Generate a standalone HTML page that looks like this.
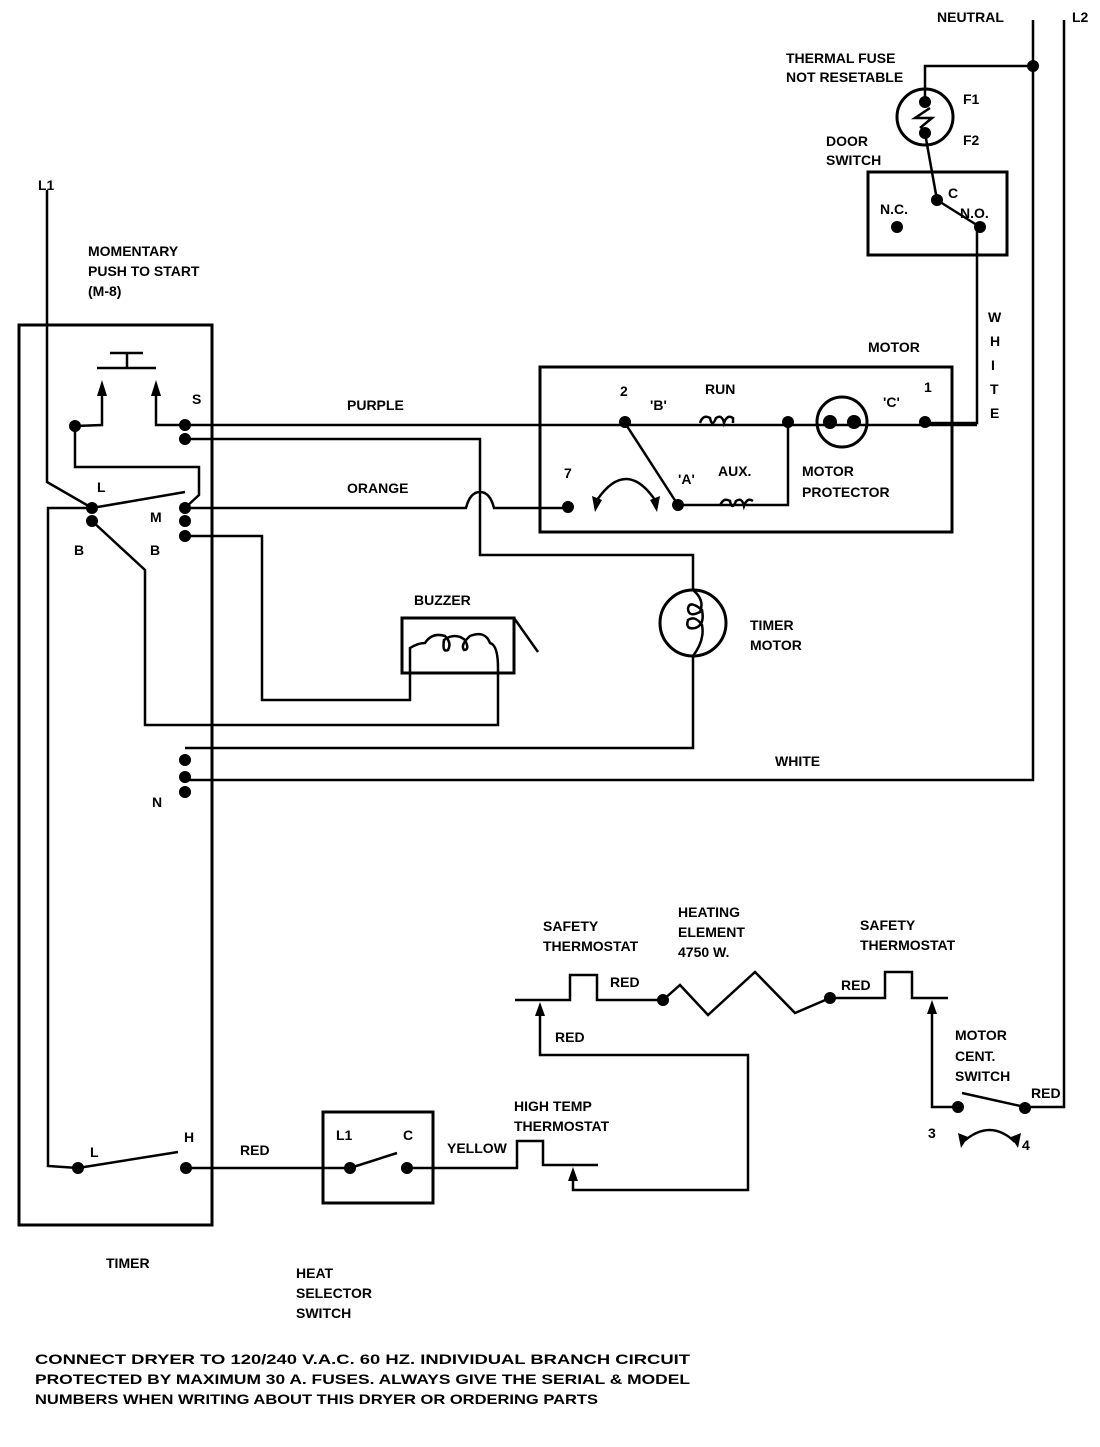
<!DOCTYPE html>
<html><head><meta charset="utf-8"><style>
html,body{margin:0;padding:0;background:#fff}
svg text{font-family:"Liberation Sans",sans-serif;font-weight:bold;font-size:14px;fill:#000}
</style></head><body>
<svg width="1100" height="1442" viewBox="0 0 1100 1442" xmlns="http://www.w3.org/2000/svg">
<g fill="none" stroke="#000" stroke-width="2.5">
<rect x="19" y="325" width="193" height="900" stroke-width="3"/>
<polyline points="47,190 47,482 92,508"/>
<polyline points="92,508 48,508 48,1166 78,1168"/>
<line x1="97" y1="368" x2="156" y2="368"/>
<line x1="110" y1="353" x2="143" y2="353"/>
<line x1="127" y1="353" x2="127" y2="368"/>
<polyline points="102,395 102,425 75,426"/>
<polyline points="156,395 156,425 185,425"/>
<polyline points="75,426 75,467 199,467 199,495 185,508"/>
<line x1="92" y1="508" x2="185" y2="492"/>
<polyline points="92,521 145,570 145,725 498,725 498,668"/>
<polyline points="185,536 262,536 262,700 410,700 410,668"/>
<line x1="185" y1="425" x2="977" y2="425"/>
<polyline points="185,439 480,439 480,555 693,555 693,590"/>
<polyline points="693,656 693,748 185,748"/>
<polyline points="185,780 1033,780 1033,20"/>
<path d="M185,508 H466 Q470,492 480,492 Q490,492 494,508 H568"/>
<rect x="540" y="367" width="412" height="165" stroke-width="3"/>
<line x1="625" y1="423" x2="678" y2="505"/>
<polyline points="678,505 740,505 788,505 788,423"/>
<path d="M597,500 Q626,458 655,500"/>
<circle cx="842" cy="422" r="25" stroke-width="3"/>
<polyline points="925,423 977,423 977,228"/>
<rect x="868" y="172" width="139" height="83" stroke-width="3"/>
<line x1="937" y1="200" x2="980" y2="227"/>
<line x1="937" y1="200" x2="925" y2="133"/>
<circle cx="925" cy="117" r="28" stroke-width="3"/>
<polyline points="925,102 925,66 1033,66"/>
<path d="M930,108 L915,118 L932,118 L920,128"/>
<polyline points="1064,20 1064,1107 1025,1107"/>
<rect x="402" y="618" width="112" height="55" stroke-width="3"/>
<line x1="514" y1="618" x2="538" y2="652"/>
<path d="M410,668 V648 Q418,643 425,643 Q432,632 445,636 Q452,643 448,650 Q442,653 444,640 Q455,632 465,640 Q470,650 464,650 Q460,645 470,636 Q485,630 490,643 Q498,645 498,668"/>
<circle cx="693" cy="623" r="33" stroke-width="3"/>
<path d="M693,590 Q705,600 700,612 Q688,618 688,608 Q690,600 702,610 Q705,625 695,628 Q685,630 688,620 Q695,615 702,625 Q705,640 693,656"/>
<polyline points="515,1000 570,1000 570,975 597,975 597,1000 663,1000 680,985 708,1015 755,972 795,1013 830,998 885,998 885,972 912,972 912,998 948,998"/>
<polyline points="540,1012 540,1055 748,1055 748,1190 573,1190 573,1178"/>
<polyline points="932,1012 932,1107 955,1107"/>
<line x1="962" y1="1093" x2="1025" y2="1107"/>
<path d="M963,1142 Q990,1118 1015,1142"/>
<line x1="78" y1="1168" x2="178" y2="1152"/>
<line x1="186" y1="1168" x2="350" y2="1168"/>
<rect x="323" y="1112" width="110" height="91" stroke-width="3"/>
<line x1="350" y1="1168" x2="397" y2="1153"/>
<polyline points="407,1168 517,1168 517,1141 543,1141 543,1165 598,1165"/>
</g>
<g fill="none" stroke="#000" stroke-width="2.5">
<path d="M700,423 Q703,414 710,418 Q712,428 716,418 Q722,414 724,423 Q727,414 733,418 V423"/>
<path d="M720,506 Q723,497 730,501 Q732,511 736,501 Q742,497 744,506 Q747,497 753,501"/>
</g>
<g fill="#000">
<polygon points="102,380 97,396 107,396"/>
<polygon points="156,380 151,396 161,396"/>
<polygon points="540,1002 535,1016 545,1016"/>
<polygon points="932,1000 927,1014 937,1014"/>
<polygon points="573,1167 568,1181 578,1181"/>
<polygon points="595,512 592,496 602,500"/>
<polygon points="657,512 650,500 660,496"/>
<polygon points="961,1148 958,1133 968,1137"/>
<polygon points="1018,1148 1011,1137 1021,1133"/>
</g>
<g fill="#000">
<circle cx="75" cy="426" r="6"/><circle cx="185" cy="425" r="6"/><circle cx="185" cy="439" r="6"/>
<circle cx="92" cy="508" r="6"/><circle cx="92" cy="521" r="6"/>
<circle cx="185" cy="508" r="6"/><circle cx="185" cy="521" r="6"/><circle cx="185" cy="536" r="6"/>
<circle cx="185" cy="760" r="6"/><circle cx="185" cy="777" r="6"/><circle cx="185" cy="792" r="6"/>
<circle cx="625" cy="422" r="6"/><circle cx="788" cy="422" r="6"/><circle cx="925" cy="422" r="6"/>
<circle cx="568" cy="507" r="6"/><circle cx="678" cy="505" r="6"/>
<circle cx="830" cy="422" r="7"/><circle cx="854" cy="422" r="7"/>
<circle cx="925" cy="102" r="6"/><circle cx="925" cy="133" r="6"/>
<circle cx="1033" cy="66" r="6"/>
<circle cx="897" cy="227" r="6"/><circle cx="937" cy="200" r="6"/><circle cx="980" cy="227" r="6"/>
<circle cx="663" cy="1000" r="6"/><circle cx="830" cy="998" r="6"/>
<circle cx="958" cy="1107" r="6"/><circle cx="1025" cy="1108" r="6"/>
<circle cx="78" cy="1168" r="6"/><circle cx="186" cy="1168" r="6"/>
<circle cx="350" cy="1168" r="6"/><circle cx="407" cy="1168" r="6"/>
</g>
<g>
<text x="937" y="22">NEUTRAL</text><text x="1072" y="22">L2</text>
<text x="786" y="63">THERMAL FUSE</text><text x="786" y="82">NOT RESETABLE</text>
<text x="963" y="104">F1</text><text x="963" y="145">F2</text>
<text x="826" y="146">DOOR</text><text x="826" y="165">SWITCH</text>
<text x="880" y="214">N.C.</text><text x="948" y="198">C</text><text x="960" y="218">N.O.</text>
<text x="988" y="322">W</text><text x="990" y="346">H</text><text x="991" y="370">I</text><text x="990" y="394">T</text><text x="990" y="418">E</text>
<text x="868" y="352">MOTOR</text><text x="38" y="190">L1</text>
<text x="88" y="256">MOMENTARY</text><text x="88" y="276">PUSH TO START</text><text x="88" y="296">(M-8)</text>
<text x="192" y="404">S</text><text x="97" y="492">L</text><text x="150" y="522">M</text>
<text x="74" y="555">B</text><text x="150" y="555">B</text>
<text x="347" y="410">PURPLE</text><text x="347" y="493">ORANGE</text>
<text x="620" y="396">2</text><text x="650" y="410">'B'</text><text x="705" y="394">RUN</text>
<text x="883" y="407">'C'</text><text x="924" y="392">1</text><text x="564" y="478">7</text>
<text x="678" y="484">'A'</text><text x="718" y="476">AUX.</text>
<text x="802" y="476">MOTOR</text><text x="802" y="497">PROTECTOR</text>
<text x="414" y="605">BUZZER</text><text x="750" y="630">TIMER</text><text x="750" y="650">MOTOR</text>
<text x="775" y="766">WHITE</text><text x="152" y="807">N</text>
<text x="543" y="931">SAFETY</text><text x="543" y="951">THERMOSTAT</text>
<text x="678" y="917">HEATING</text><text x="678" y="937">ELEMENT</text><text x="678" y="957">4750 W.</text>
<text x="860" y="930">SAFETY</text><text x="860" y="950">THERMOSTAT</text>
<text x="610" y="987">RED</text><text x="841" y="990">RED</text><text x="555" y="1042">RED</text>
<text x="955" y="1040">MOTOR</text><text x="955" y="1061">CENT.</text><text x="955" y="1081">SWITCH</text>
<text x="1031" y="1098">RED</text><text x="928" y="1138">3</text><text x="1022" y="1150">4</text>
<text x="514" y="1111">HIGH TEMP</text><text x="514" y="1131">THERMOSTAT</text>
<text x="90" y="1157">L</text><text x="184" y="1142">H</text><text x="240" y="1155">RED</text>
<text x="336" y="1140">L1</text><text x="403" y="1140">C</text><text x="447" y="1153">YELLOW</text>
<text x="106" y="1268">TIMER</text>
<text x="296" y="1278">HEAT</text><text x="296" y="1298">SELECTOR</text><text x="296" y="1318">SWITCH</text>
<text x="35" y="1364" font-size="16" textLength="655" lengthAdjust="spacingAndGlyphs">CONNECT DRYER TO 120/240 V.A.C. 60 HZ. INDIVIDUAL BRANCH CIRCUIT</text>
<text x="35" y="1384" font-size="16" textLength="655" lengthAdjust="spacingAndGlyphs">PROTECTED BY MAXIMUM 30 A. FUSES. ALWAYS GIVE THE SERIAL &amp; MODEL</text>
<text x="35" y="1404" font-size="16" textLength="563" lengthAdjust="spacingAndGlyphs">NUMBERS WHEN WRITING ABOUT THIS DRYER OR ORDERING PARTS</text>
</g>
</svg>
</body></html>
